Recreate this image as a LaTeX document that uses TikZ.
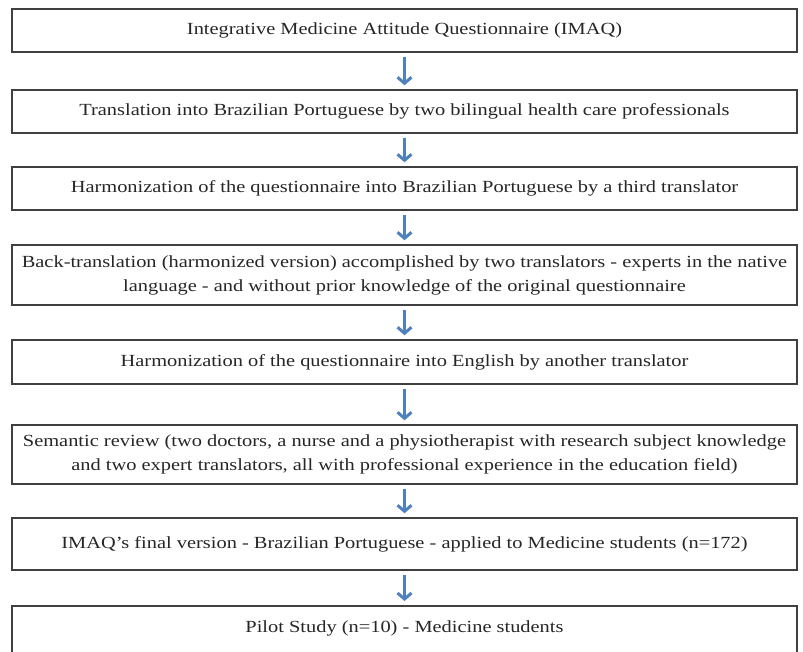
\documentclass[tikz,border=0pt]{standalone}
\usepackage{fontspec}
\setmainfont{Liberation Serif}[FakeStretch=1.2]
\usetikzlibrary{arrows.meta}
\definecolor{arrowblue}{RGB}{79,129,189}
\definecolor{boxgray}{RGB}{64,64,64}

\begin{document}
\begin{tikzpicture}[x=1pt,y=-1pt,
		stepbox/.style={draw=boxgray,line width=1.5pt,minimum width=785pt,inner sep=0pt,
			align=center,text=black!85,font=\fontsize{17}{24}\selectfont},
		flowarrow/.style={draw=arrowblue,line width=3pt,-{Straight Barb[length=6pt,width=14pt]}}]
		\useasboundingbox (0,0) rectangle (803,652);
		\clip (0,0) rectangle (803,652);
		\node[stepbox,minimum height=43pt] (imaq) at (404.5,30.5) {Integrative Medicine Attitude Questionnaire (IMAQ)};
		\node[stepbox,minimum height=43pt] (transl) at (404.5,111.5) {Translation into Brazilian Portuguese by two bilingual health care professionals};
		\node[stepbox,minimum height=43pt] (harmpt) at (404.5,188.5) {Harmonization of the questionnaire into Brazilian Portuguese by a third translator};
		\node[stepbox,minimum height=60pt] (back) at (404.5,275) {Back-translation (harmonized version) accomplished by two translators - experts in the native\\language - and without prior knowledge of the original questionnaire};
		\node[stepbox,minimum height=44pt] (harmen) at (404.5,362) {Harmonization of the questionnaire into English by another translator};
		\node[stepbox,minimum height=59pt] (review) at (404.5,454.5) {Semantic review (two doctors, a nurse and a physiotherapist with research subject knowledge\\and two expert translators, all with professional experience in the education field)};
		\node[stepbox,minimum height=52pt] (final) at (404.5,544) {IMAQ's final version - Brazilian Portuguese - applied to Medicine students (n=172)};
		\node[stepbox,anchor=north,text height=27pt,text depth=60pt] (pilot) at (404.5,605) {Pilot Study (n=10) - Medicine students};
		% arrows between the steps
		\foreach \a/\b in {imaq/transl,transl/harmpt,harmpt/back,back/harmen,harmen/review,review/final,final/pilot}
			\draw[flowarrow] ([yshift=-4pt]\a.south) -- ([yshift=4pt]\b.north);
	\end{tikzpicture}
\end{document}
